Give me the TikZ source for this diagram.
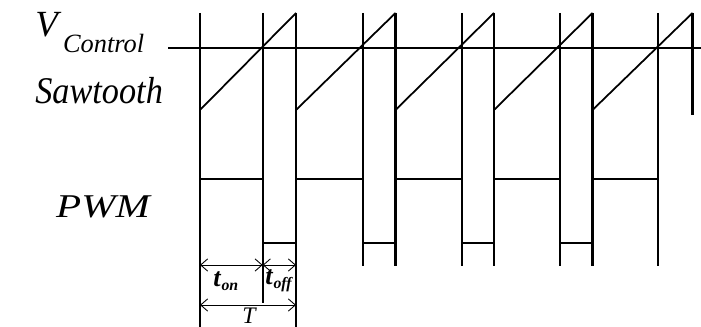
\documentclass[tikz,border=0pt]{standalone}
\usepackage{fontspec}
\setmainfont{Liberation Serif}
\usetikzlibrary{arrows.meta}

\begin{document}
\begin{tikzpicture}[x=0.02cm, y=-0.02cm,
    sig/.style={line width=1pt},
    edge/.style={line width=1.3pt},
    dim/.style={line width=0.5pt, {Straight Barb[length=4pt,width=7pt]}-{Straight Barb[length=4pt,width=7pt]}},
    lbl/.style={inner sep=0pt, font=\itshape}]
    \useasboundingbox (0,0) rectangle (701,327);
    % control level
    \coordinate (vc-l) at (168,48);
    \coordinate (vc-r) at (701,48);
    \draw[sig] (vc-l) -- (vc-r);
    % one period: start / crossing / end
    \foreach \s/\c/\e [count=\i] in {200/262.7/296, 296/363.3/395.5, 395.5/461.7/494, 494/560/592.5, 592.5/658/692.5} {
        \draw[sig] (\s,110) -- (\e,13);
        \draw[edge] (\c,13) -- (\c,266);
        \draw[sig] (\s,179) -- (\c,179);
    }
    \foreach \s in {395.5, 494, 592.5}
        \draw[edge] (\s,13) -- (\s,266);
    \foreach \c/\e in {262.7/296, 363.3/395.5, 461.7/494, 560/592.5}
        \draw[sig] (\c,243) -- (\e,243);
    \draw[edge] (200,13) -- (200,327);
    \draw[edge] (296,13) -- (296,327);
    \draw[edge] (692.5,13) -- (692.5,115);
    \draw[edge] (262.7,266) -- (262.7,303);
    % labels
    \node[lbl, anchor=base west] (vctl) at (35,37)
        {\fontsize{21}{21}\selectfont V\kern3pt\raisebox{-9pt}{\fontsize{15}{16}\selectfont Control}};
    \node[lbl, anchor=base west] (saw) at (35,104)
        {\fontsize{19.5}{20}\selectfont\scalebox{1}[1.1]{Sawtooth}};
    \node[lbl] (pwm) at (103,207) {\fontsize{18}{18}\selectfont\scalebox{1.3}[1.05]{PWM}};
    % time marks
    \coordinate (on-l) at (200,265);
    \coordinate (on-r) at (262.7,265);
    \coordinate (off-r) at (296,265);
    \coordinate (per-l) at (200,305);
    \coordinate (per-r) at (296,305);
    \draw[dim] (on-l) -- (on-r);
    \draw[dim] (on-r) -- (off-r);
    \draw[dim] (per-l) -- (per-r);
    \node[lbl, anchor=base west] (ton) at (213,287)
        {\bfseries\fontsize{15}{15}\selectfont t\kern0.5pt\raisebox{-2pt}{\fontsize{9}{9}\selectfont on}};
    \node[lbl, anchor=base west] (toff) at (265,285)
        {\bfseries\fontsize{15}{15}\selectfont t\kern0.5pt\raisebox{-2pt}{\fontsize{9}{9}\selectfont off}};
    \node[lbl, anchor=north] (per) at (249,307.5) {\fontsize{13.5}{14}\selectfont T};
\end{tikzpicture}
\end{document}
